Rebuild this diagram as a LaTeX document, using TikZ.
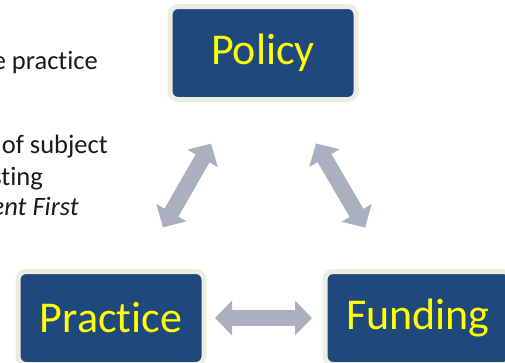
\documentclass[tikz,border=0pt]{standalone}
\usepackage{fontspec}
\setmainfont[Ligatures={NoCommon}]{Carlito}
\usetikzlibrary{arrows.meta}
\definecolor{boxblue}{HTML}{1F497D}
\definecolor{boxrim}{HTML}{EEECE1}
\definecolor{arrowgrey}{HTML}{AAB0BF}
\definecolor{textyellow}{HTML}{FFFF00}
\definecolor{bodytext}{HTML}{1A1A1A}
\tikzset{
  stagebox/.style={rectangle, rounded corners=8pt, fill=boxblue, draw=boxrim,
    line width=5pt, minimum width=186pt, minimum height=93pt,
    text=textyellow, font=\fontsize{44}{44}\selectfont, inner sep=0pt},
  linkarrow/.style={draw=arrowgrey, line width=16pt,
    {Triangle[width=34pt,length=17pt,fill=arrowgrey]}-{Triangle[width=34pt,length=17pt,fill=arrowgrey]}},
  sidetext/.style={anchor=base east, text=bodytext, font=\fontsize{26.5}{26.5}\selectfont, inner sep=0pt}
}
\begin{document}
\begin{tikzpicture}[x=1pt,y=-1pt]
\useasboundingbox[fill=white] (0,0) rectangle (505,362);
\node[stagebox] (policy) at (263,53) {Policy};
\node[stagebox] (practice) at (111,318) {Practice};
\node[stagebox] (funding) at (418,318) {Funding};
\draw[linkarrow, shorten <=48pt, shorten >=48pt] (policy) -- (practice);
\draw[linkarrow, shorten <=48pt, shorten >=48pt] (policy) -- (funding);
\draw[linkarrow, shorten <=8.5pt, shorten >=10.5pt] (practice.east) -- (funding.west);
\node[sidetext] (t1) at (98,69) {e practice};
\node[sidetext] (t2) at (108,153) {of subject};
\node[sidetext] (t3) at (43,185) {sting};
\node[sidetext] (t4) at (79,215) {\itshape ent First};
\end{tikzpicture}
\end{document}
